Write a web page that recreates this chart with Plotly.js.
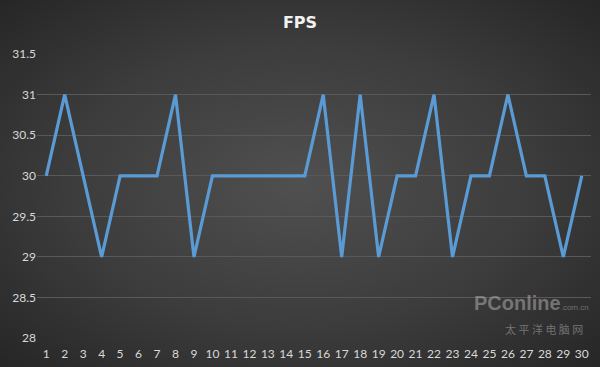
<!DOCTYPE html>
<html>
<head>
<meta charset="utf-8">
<script src="https://cdn.plot.ly/plotly-3.0.1.min.js"></script>
<style>
html,body{margin:0;padding:0;}
#chart{width:600px;height:367px;background:radial-gradient(ellipse at 50% 50%, #505050 0%, #3c3c3c 55%, #262626 100%);}
</style>
</head>
<body>
<div id="chart"></div>
<script>
const categories = ["1","2","3","4","5","6","7","8","9","10","11","12","13","14","15","16","17","18","19","20","21","22","23","24","25","26","27","28","29","30"];
const fps = [30,31,30,29,30,30,30,31,29,30,30,30,30,30,30,31,29,31,29,30,30,31,29,30,30,31,30,30,29,30];
const yTicks = [28,28.5,29,29.5,30,30.5,31,31.5];

const trace = {
  x: categories,
  y: fps,
  type: 'scatter',
  mode: 'lines',
  line: {color: '#5B9BD5', width: 3.2},
  hoverinfo: 'skip'
};

const layout = {
  width: 600, height: 367,
  paper_bgcolor: 'rgba(0,0,0,0)',
  plot_bgcolor: 'rgba(0,0,0,0)',
  margin: {l: 37, r: 9, t: 54, b: 28},
  showlegend: false,
  title: {text: '<b>FPS</b>', x: 0.5, xanchor: 'center', y: 0.94, yanchor: 'middle',
          font: {family: '"DejaVu Sans", sans-serif', size: 16, color: '#f2f2f2'}},
  xaxis: {
    type: 'category',
    range: [-0.5, 29.5],
    showgrid: false, zeroline: false, showline: false,
    ticks: '', ticklen: 0, ticklabelstandoff: 6,
    tickfont: {family: 'Lato, "Open Sans", sans-serif', size: 12, color: '#d9d9d9'},
    fixedrange: true
  },
  yaxis: {
    range: [27.99, 31.5],
    tickvals: yTicks,
    ticktext: yTicks.map(v => String(v)),
    showgrid: true, gridcolor: '#595959', gridwidth: 1,
    zeroline: false, showline: false, ticks: '',
    tickfont: {family: 'Lato, "Open Sans", sans-serif', size: 12, color: '#d9d9d9'},
    fixedrange: true
  },
  annotations: [
    {text: '<b>PConline</b><span style="font-size:8px">.com.cn</span>', xref: 'paper', yref: 'paper', x: 1.0, y: 0.08,
     xanchor: 'right', yanchor: 'bottom', showarrow: false,
     font: {family: 'Liberation Sans, sans-serif', size: 20, color: 'rgba(200,200,200,0.45)'}},
    {text: '太 平 洋 电 脑 网', xref: 'paper', yref: 'paper', x: 0.99, y: 0.0,
     xanchor: 'right', yanchor: 'bottom', showarrow: false,
     font: {family: '"Noto Sans CJK SC", sans-serif', size: 11, color: 'rgba(200,200,200,0.45)'}}
  ]
};

Plotly.newPlot('chart', [trace], layout, {displayModeBar: false, staticPlot: true});
</script>
</body>
</html>
